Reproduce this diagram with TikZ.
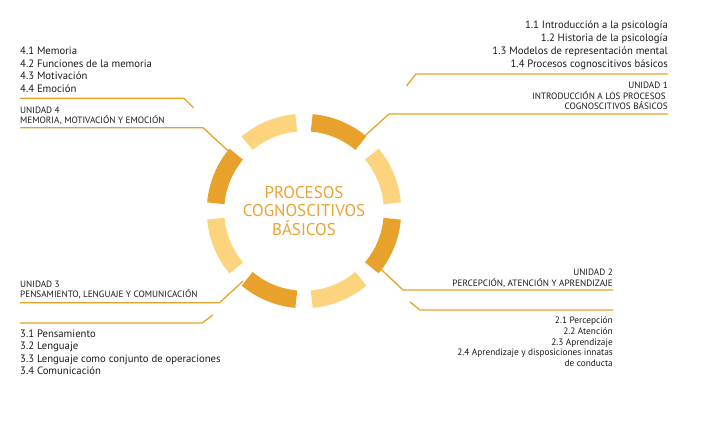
\documentclass[tikz,border=0pt]{standalone}
\usepackage{fontspec}
\setmainfont{PT Sans}
\usetikzlibrary{calc}
\definecolor{ringdark}{HTML}{E8A22C}
\definecolor{ringlight}{HTML}{FDD47E}
\definecolor{titleorange}{HTML}{E9A335}
\definecolor{textgray}{HTML}{1A1A1A}
\tikzset{
  rule/.style={ringdark, line width=1.3pt},
  ringseg/.style={line width=17.5pt},
  itemtext/.style={inner sep=0pt, textgray, font=\fontsize{10.7}{12}\selectfont},
  itemsmall/.style={inner sep=0pt, textgray, font=\fontsize{9.3}{10}\selectfont},
  unitlabel/.style={inner sep=0pt, textgray, font=\fontsize{9.2}{10}\selectfont},
}
\begin{document}
\begin{tikzpicture}[x=1pt, y=-1pt]
\useasboundingbox (0,0) rectangle (710,438);
% anillo central
\coordinate (c) at (304,211);
\foreach \a/\col in {22.5/ringlight, 67.5/ringdark, 112.5/ringlight, 157.5/ringdark,
                     202.5/ringlight, 247.5/ringdark, 292.5/ringlight, 337.5/ringdark}
  \draw[ringseg, \col] ($(c)+(\a-17.5:88.5pt)$) arc[start angle=\a-17.5, end angle=\a+17.5, radius=88.5pt];
\node[align=center, titleorange, font=\fontsize{17}{18.5}\selectfont] (titulo) at (c)
  {PROCESOS\\COGNOSCITIVOS\\BÁSICOS};
% Unidad 1
\foreach \t [count=\i] in {1.1 Introducción a la psicología, 1.2 Historia de la psicología,
                           1.3 Modelos de representación mental, 1.4 Procesos cognoscitivos básicos}
  \node[itemtext, anchor=base east] (u1t\i) at (668,16+13*\i) {\t};
\node[unitlabel, anchor=base east] (u1a) at (668,89) {UNIDAD 1};
\node[unitlabel, anchor=base east] (u1b) at (666,99.5) {INTRODUCCIÓN A LOS PROCESOS};
\node[unitlabel, anchor=base east] (u1c) at (668,110) {COGNOSCITIVOS BÁSICOS};
\coordinate (r1) at ($(c)+(51:97pt)$);
\coordinate (k1) at (389,114);
\coordinate (e1) at (668,114);
\coordinate (s1b) at (406.5,86);
\coordinate (k1b) at (416,74);
\coordinate (e1b) at (668,74);
\draw[rule] (r1) -- (k1) -- (e1);
\draw[rule] (s1b) -- (k1b) -- (e1b);
% Unidad 2
\node[unitlabel, anchor=base east] (u2a) at (613,276) {UNIDAD 2};
\node[unitlabel, anchor=base east] (u2b) at (613,286.5) {PERCEPCIÓN, ATENCIÓN Y APRENDIZAJE};
\foreach \t [count=\i] in {2.1 Percepción, 2.2 Atención, 2.3 Aprendizaje,
                           2.4 Aprendizaje y disposiciones innatas, de conducta}
  \node[itemsmall, anchor=base east] (u2t\i) at (613,313.4+10.6*\i) {\t};
\coordinate (r2) at ($(c)+(-37:95pt)$);
\coordinate (k2) at (403,290);
\coordinate (e2) at (613,290);
\coordinate (s2b) at (410,302);
\coordinate (k2b) at (420,310);
\coordinate (e2b) at (613,310);
\draw[rule] (r2) -- (k2) -- (e2);
\draw[rule] (s2b) -- (k2b) -- (e2b);
% Unidad 3
\node[unitlabel, anchor=base west] (u3a) at (20,287.5) {UNIDAD 3};
\node[unitlabel, anchor=base west] (u3b) at (20,297.8) {PENSAMIENTO, LENGUAJE Y COMUNICACIÓN};
\foreach \t [count=\i] in {3.1 Pensamiento, 3.2 Lenguaje,
                           3.3 Lenguaje como conjunto de operaciones, 3.4 Comunicación}
  \node[itemtext, anchor=base west] (u3t\i) at (20,325+12.5*\i) {\t};
\coordinate (r3) at ($(c)+(229:93pt)$);
\coordinate (k3) at (219.5,302.7);
\coordinate (e3) at (20,302.7);
\coordinate (s3b) at (213,315);
\coordinate (k3b) at (202,323);
\coordinate (e3b) at (20,323);
\draw[rule] (r3) -- (k3) -- (e3);
\draw[rule] (s3b) -- (k3b) -- (e3b);
% Unidad 4
\foreach \t [count=\i] in {4.1 Memoria, 4.2 Funciones de la memoria, 4.3 Motivación, 4.4 Emoción}
  \node[itemtext, anchor=base west] (u4t\i) at (20,42.5+12.5*\i) {\t};
\node[unitlabel, anchor=base west] (u4a) at (20,113.5) {UNIDAD 4};
\node[unitlabel, anchor=base west] (u4b) at (20,124) {MEMORIA, MOTIVACIÓN Y EMOCIÓN};
\coordinate (s4) at (193.5,107.7);
\coordinate (k4) at (184,98.3);
\coordinate (e4) at (20,98.3);
\coordinate (r4) at ($(c)+(142:88pt)$);
\coordinate (k4b) at (203,127.7);
\coordinate (e4b) at (20,127.7);
\draw[rule] (s4) -- (k4) -- (e4);
\draw[rule] (r4) -- (k4b) -- (e4b);
\end{tikzpicture}
\end{document}
